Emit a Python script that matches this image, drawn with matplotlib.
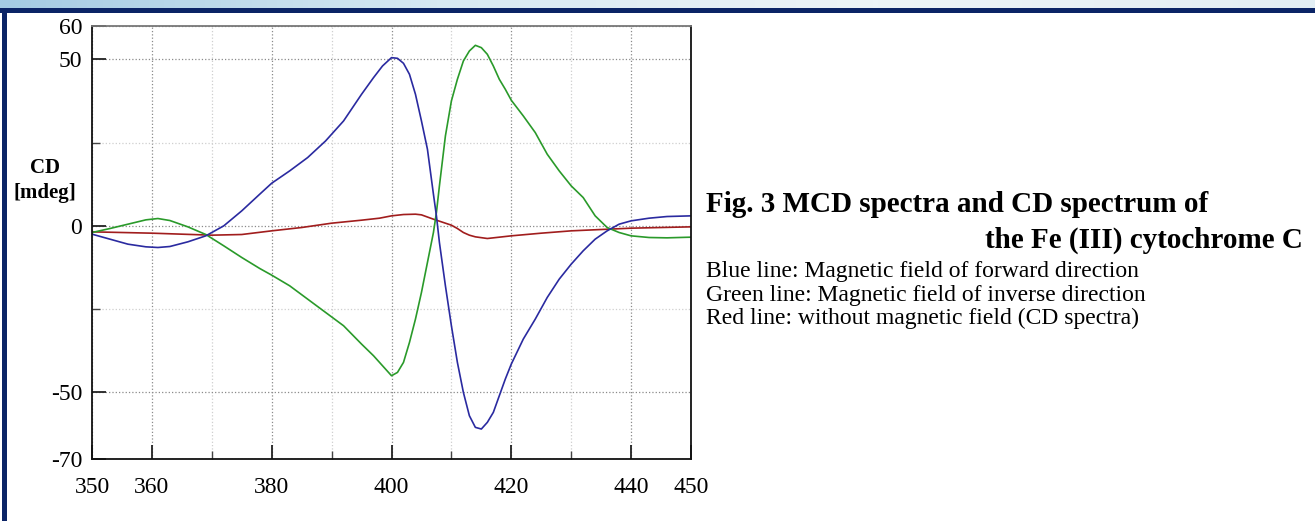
import matplotlib
matplotlib.use("Agg")
import matplotlib.pyplot as plt
from matplotlib.patches import Rectangle
import numpy as np

plt.rcParams['font.family'] = ['Liberation Serif', 'DejaVu Serif']

# wavelength [nm] and CD [mdeg]
wl_blue = [350, 353, 356, 359, 361, 363, 366, 369, 372, 375, 378, 380, 383, 386, 389,
           392, 395, 397, 398.5, 400, 401, 402, 403, 404, 405, 406, 407, 407.5, 408, 409,
           410, 411, 412, 413, 414, 415, 416, 417, 418, 419, 420, 422, 424, 426, 428,
           430, 432, 434, 436, 438, 440, 443, 446, 450]
cd_blue = [-2.5, -4, -5.5, -6.3, -6.5, -6.2, -4.8, -3, 0, 4.5, 9.5, 12.8, 16.5, 20.5, 25.5,
           31.5, 39.5, 44.5, 48, 50.5, 50.3, 48.8, 45.5, 39.5, 31.5, 23, 9.5, 3, -5, -18,
           -30, -41, -50, -57, -60.5, -61, -59, -56, -51, -46, -41.5, -34, -28, -21.5, -16,
           -11.5, -7.5, -4, -1.5, 0.5, 1.5, 2.3, 2.8, 3]

wl_green = [350, 353, 356, 359, 361, 363, 366, 369, 372, 375, 378, 380, 383, 386, 389,
            392, 395, 397, 398.5, 400, 401, 402, 403, 404, 405, 406, 407, 407.5, 408, 409,
            410, 411, 412, 413, 414, 415, 416, 417, 418, 419, 420, 422, 424, 426, 428,
            430, 432, 434, 436, 438, 440, 443, 446, 450]
cd_green = [-2, -0.8, 0.5, 1.8, 2.2, 1.6, -0.3, -2.6, -6, -9.5, -12.8, -14.8, -18, -22, -26,
            -30, -35.5, -39, -42, -45, -44, -41, -35, -28, -20, -11, -2, 4, 12, 27,
            37.5, 44, 49.5, 52.5, 54.2, 53.5, 51.5, 48, 44, 41, 37.7, 33, 28, 21.5, 16.5,
            12, 8.5, 3, -0.5, -2, -3, -3.5, -3.6, -3.4]

wl_red = [350, 355, 360, 365, 370, 375, 380, 385, 390, 395, 398, 400, 402, 404, 405,
          407, 409, 410, 411, 412, 413, 414, 416, 418, 420, 425, 430, 435, 440, 445, 450]
cd_red = [-1.8, -2, -2.2, -2.5, -2.8, -2.6, -1.5, -0.5, 0.8, 1.7, 2.3, 3, 3.4, 3.5, 3.3,
          2, 0.8, 0.2, -0.8, -2, -2.8, -3.3, -3.8, -3.4, -3, -2.2, -1.5, -1.1, -0.7, -0.5, -0.3]

x_major = [350, 360, 380, 400, 420, 440, 450]
x_minor = [370, 390, 410, 430]
y_major = [60, 50, 0, -50, -70]
y_minor = [25, -25]

W, H = 1315, 521
fig = plt.figure(figsize=(W / 100, H / 100), dpi=100)
fig.patch.set_facecolor('white')

# slide frame: light blue strip on top, navy band, navy left border
grad = np.linspace(0, 1, 256).reshape(1, -1)
strip = fig.add_axes([0, 1 - 8 / H, 1, 8 / H])
strip.imshow(grad, aspect='auto', cmap=matplotlib.colors.LinearSegmentedColormap.from_list(
    'sky', ['#a4cbe3', '#d7e9f3', '#edf4f8', '#e2eef4']), extent=[0, 1, 0, 1])
strip.axis('off')
fig.patches.append(Rectangle((0, 1 - 13 / H), 1, 5 / H, transform=fig.transFigure,
                             facecolor='#0b2466', edgecolor='none'))
fig.patches.append(Rectangle((2 / W, 0), 5 / W, 1 - 8 / H, transform=fig.transFigure,
                             facecolor='#0b2466', edgecolor='none'))

ax = fig.add_axes([92 / W, 1 - 459 / H, 599 / W, 433 / H])
ax.plot(wl_red, cd_red, color='#a11d1d', lw=1.2)
ax.plot(wl_green, cd_green, color='#2a9a2a', lw=1.2)
ax.plot(wl_blue, cd_blue, color='#2a2aa0', lw=1.2)

ax.set_xlim(350, 450)
ax.set_ylim(-70, 60)
ax.set_xticks(x_major)
ax.set_xticks(x_minor, minor=True)
ax.set_yticks(y_major)
ax.set_yticks(y_minor, minor=True)
ax.set_xticklabels([str(v) for v in x_major])
ax.set_yticklabels([str(v) for v in y_major])
ax.tick_params(which='major', direction='in', length=10, width=1.3, labelsize=17, color='#222222')
ax.tick_params(which='minor', direction='in', length=6, width=1.0, color='#444444')
ax.tick_params(axis='x', which='major', pad=13)
ax.tick_params(axis='y', which='major', pad=7)
ax.tick_params(top=False, right=False)

ax.grid(which='major', color='#8a8a8a', linestyle=':', linewidth=0.9)
ax.grid(which='minor', color='#cfcfcf', linestyle=':', linewidth=0.9)
for s in ax.spines.values():
    s.set_linewidth(1.3)
    s.set_color('#111111')
ax.spines['top'].set_color('#777777')

fig.text(45 / W, 1 - 168 / H, 'CD', ha='center', va='center',
         fontsize=15, fontweight='bold')
fig.text(45 / W, 1 - 193 / H, '[mdeg]', ha='center', va='center',
         fontsize=15, fontweight='bold')

fig.text(706 / W, 1 - 205 / H, 'Fig. 3 MCD spectra and CD spectrum of',
         ha='left', va='center', fontsize=21, fontweight='bold')
fig.text(1303 / W, 1 - 240 / H, 'the Fe (III) cytochrome C',
         ha='right', va='center', fontsize=21, fontweight='bold')
notes = ['Blue line: Magnetic field of forward direction',
         'Green line: Magnetic field of inverse direction',
         'Red line: without magnetic field (CD spectra)']
for i, t in enumerate(notes):
    fig.text(706 / W, 1 - (272 + 23 * i) / H, t, ha='left', va='center', fontsize=17)

fig.savefig('out.png', dpi=100)
